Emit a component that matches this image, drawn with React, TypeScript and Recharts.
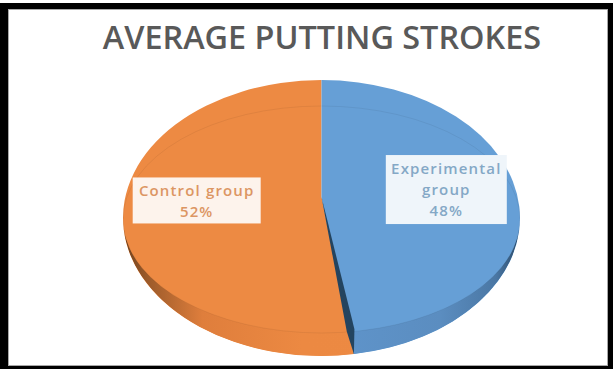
import React from 'react';
import { PieChart, Pie, Cell } from 'recharts';

const groups = ['Control group', 'Experimental group'];
const shares = [52, 48];
const faceColors = ['#ed8a43', '#669fd6'];
const labelInk = ['#dc9663', '#84a8c6'];
const labelPaper = ['#fdf3ec', '#eff5fa'];
const labelLines = [['Control group'], ['Experimental', 'group']];
const labelWidths = [128, 121];
const chartTitle = 'AVERAGE PUTTING STROKES';

const tableRows = groups.map((name, i) => ({ name, value: shares[i] }));

const WIDTH = 613;
const HEIGHT = 369;
const CX = 321.5;
const CY = 218;
const RX = 198.5;
const SQUASH = 0.695; // outer outline is an ellipse, ry = RX * SQUASH
const RIM_RY = 113.5; // ellipse of the bevel line on the top face
const RIM_DY = 1.5;
const APEX_DY = -21; // tilted view pushes the pie's centre upwards
const NEAR_STRETCH = 1.31; // angles near the viewer open up a little

const rad = (deg: number) => (deg * Math.PI) / 180;

// angle on the tilted disc, in radians
const tilted = (deg: number) => {
  const r = rad(deg);
  return Math.atan2(Math.sin(r), Math.cos(r) * NEAR_STRETCH);
};

function TiltedSlice(props: any) {
  const { cx, cy, outerRadius, startAngle, endAngle, fill, index } = props;
  const rx = outerRadius;
  const ry = outerRadius * SQUASH;
  const a0 = tilted(startAngle);
  const a1 = tilted(endAngle);
  const sx = cx + rx * Math.cos(a0);
  const sy = cy - ry * Math.sin(a0);
  const ex = cx + rx * Math.cos(a1);
  const ey = cy - ry * Math.sin(a1);
  const apexY = cy + APEX_DY;
  const large = endAngle - startAngle > 180 ? 1 : 0;
  const outline = `M${cx},${apexY} L${sx},${sy} A${rx},${ry} 0 ${large} 0 ${ex},${ey} Z`;

  // where the outline and the bevel ellipse meet on either side
  const k = RIM_RY / ry;
  const meetY = (cy + RIM_DY - k * cy) / (1 - k);
  const meetX = rx * Math.sqrt(1 - ((meetY - cy) / ry) ** 2);
  const wall =
    `M${cx - meetX},${meetY} A${rx},${ry} 0 0 0 ${cx + meetX},${meetY} ` +
    `A${rx},${RIM_RY} 0 0 1 ${cx - meetX},${meetY} Z`;

  const clipId = `slice-clip-${index}`;
  const isLast = index === shares.length - 1;
  const cutAngle = tilted(startAngle);
  const cutX = cx + rx * Math.cos(cutAngle);
  const cutY = cy - ry * Math.sin(cutAngle);

  return (
    <g>
      <defs>
        <clipPath id={clipId}>
          <path d={outline} />
        </clipPath>
      </defs>
      <path d={outline} fill={fill} />
      <g clipPath={`url(#${clipId})`}>
        <path d={wall} fill={`url(#wall-${index})`} />
        <ellipse
          cx={cx}
          cy={cy + RIM_DY}
          rx={rx}
          ry={RIM_RY}
          fill="none"
          stroke="#000"
          strokeOpacity={0.06}
        />
      </g>
      {isLast && (
        <path
          d={`M${cx},${apexY} L${cutX - 7},${cutY - 22} L${cutX},${cutY} L${cutX + 0.5},${cutY - 25} Z`}
          fill="#24445f"
        />
      )}
    </g>
  );
}

function SliceLabel(props: any) {
  const { cx, cy, midAngle, outerRadius, index, value } = props;
  const x = cx + outerRadius * 0.63 * Math.cos(rad(midAngle));
  const y = cy - outerRadius * SQUASH * 0.63 * Math.sin(rad(midAngle)) - 23;
  const lines = [...labelLines[index], `${value}%`];
  const boxW = labelWidths[index];
  const boxH = lines.length * 23;
  return (
    <g>
      <rect x={x - boxW / 2} y={y - boxH / 2} width={boxW} height={boxH} fill={labelPaper[index]} />
      {lines.map((line, i) => (
        <text
          key={line}
          x={x}
          y={y - boxH / 2 + 18.5 + i * 21}
          textAnchor="middle"
          fontFamily="'Open Sans', sans-serif"
          fontWeight={600}
          fontSize={15}
          letterSpacing={1.15}
          fill={labelInk[index]}
        >
          {line}
        </text>
      ))}
    </g>
  );
}

export default function App() {
  return (
    <div
      style={{
        position: 'absolute',
        left: 0,
        top: 0,
        width: WIDTH,
        height: HEIGHT,
        background: '#fff',
        overflow: 'hidden',
      }}
    >
      <div
        style={{
          position: 'absolute',
          left: 0,
          top: 3,
          width: WIDTH,
          height: HEIGHT - 3,
          boxSizing: 'border-box',
          borderStyle: 'solid',
          borderColor: '#000',
          borderWidth: '6px 5px 3px 8px',
          boxShadow: 'inset 0 0 0 1px #a8a8a8',
        }}
      />
      <div
        style={{
          position: 'absolute',
          left: 0,
          top: 18,
          width: 644,
          textAlign: 'center',
          fontFamily: "'Open Sans', sans-serif",
          fontWeight: 600,
          fontSize: 32.4,
          lineHeight: '37px',
          color: '#595959',
          whiteSpace: 'nowrap',
        }}
      >
        {chartTitle}
      </div>
      <div style={{ position: 'absolute', left: 0, top: 0 }}>
        <PieChart width={WIDTH} height={HEIGHT} margin={{ top: 0, right: 0, bottom: 0, left: 0 }}>
          <defs>
            <linearGradient id="wall-0" x1="0" y1="0" x2="1" y2="0">
              <stop offset="0%" stopColor="#6d411f" />
              <stop offset="6%" stopColor="#9b5a2a" />
              <stop offset="20%" stopColor="#df7e3c" />
              <stop offset="45%" stopColor="#ec8942" />
              <stop offset="100%" stopColor="#ed8a43" />
            </linearGradient>
            <linearGradient id="wall-1" x1="0" y1="0" x2="1" y2="0">
              <stop offset="50%" stopColor="#5f95cc" />
              <stop offset="80%" stopColor="#5b8dc0" />
              <stop offset="94%" stopColor="#4a77a4" />
              <stop offset="100%" stopColor="#2c4a68" />
            </linearGradient>
          </defs>
          <Pie
            data={tableRows}
            dataKey="value"
            nameKey="name"
            cx={CX}
            cy={CY}
            outerRadius={RX}
            startAngle={90}
            endAngle={450}
            paddingAngle={0}
            stroke="none"
            shape={TiltedSlice}
            label={SliceLabel}
            labelLine={false}
            isAnimationActive={false}
          >
            {tableRows.map((row, i) => (
              <Cell key={row.name} fill={faceColors[i]} />
            ))}
          </Pie>
        </PieChart>
      </div>
    </div>
  );
}
